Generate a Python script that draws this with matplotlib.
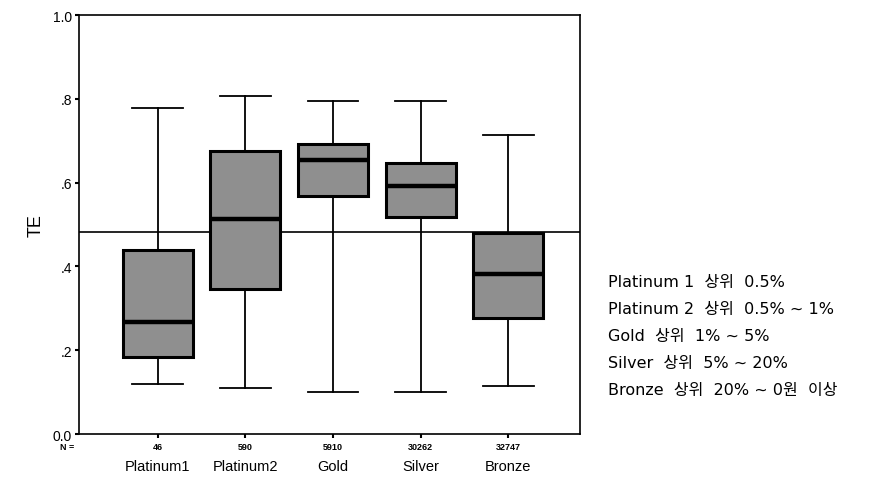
import matplotlib
matplotlib.use("Agg")
import matplotlib.pyplot as plt
from matplotlib.transforms import blended_transform_factory

plt.rcParams['font.family'] = ['Liberation Sans', 'Noto Sans CJK KR', 'DejaVu Sans']

categories = ["Platinum1", "Platinum2", "Gold", "Silver", "Bronze"]
counts = ["46", "590", "5910", "30262", "32747"]
whislo = [0.12, 0.11, 0.10, 0.10, 0.115]
q1 = [0.185, 0.345, 0.567, 0.517, 0.278]
med = [0.268, 0.512, 0.655, 0.593, 0.383]
q3 = [0.440, 0.676, 0.693, 0.648, 0.479]
whishi = [0.779, 0.807, 0.795, 0.795, 0.713]
ref_line = 0.481
ytick_vals = [0.0, 0.2, 0.4, 0.6, 0.8, 1.0]
ytick_labels = ["0.0", ".2", ".4", ".6", ".8", "1.0"]
legend_lines = ["Platinum 1  상위  0.5%",
                "Platinum 2  상위  0.5% ~ 1%",
                "Gold  상위  1% ~ 5%",
                "Silver  상위  5% ~ 20%",
                "Bronze  상위  20% ~ 0원  이상"]

fig = plt.figure(figsize=(8.82, 4.81), dpi=100)
ax = fig.add_axes([0.0896, 0.0956, 0.5680, 0.8711])

stats = []
for i, c in enumerate(categories):
    stats.append(dict(label=c, whislo=whislo[i], q1=q1[i], med=med[i],
                      q3=q3[i], whishi=whishi[i], fliers=[]))
positions = list(range(1, len(categories) + 1))
ax.bxp(stats, positions=positions, widths=0.8, patch_artist=True,
       showfliers=False,
       boxprops=dict(facecolor='#8f8f8f', edgecolor='black', linewidth=2.2),
       medianprops=dict(color='black', linewidth=3.2),
       whiskerprops=dict(color='black', linewidth=1.3),
       capprops=dict(color='black', linewidth=1.3),
       capwidths=0.58)

ax.axhline(ref_line, color='black', linewidth=1.2, zorder=0.5)

ax.set_xlim(0.1, 5.82)
ax.set_ylim(0.0, 1.0)
ax.set_yticks(ytick_vals)
ax.set_yticklabels(ytick_labels, fontsize=10)
ax.set_xticks(positions)
ax.set_xticklabels(categories, fontsize=10.5)
ax.tick_params(axis='x', length=3, width=1.5, pad=15)
ax.tick_params(axis='y', length=3, width=1.5, pad=2)
for s in ax.spines.values():
    s.set_linewidth(1.2)
ax.set_ylabel("TE", fontsize=13, labelpad=6)

trans = blended_transform_factory(ax.transData, ax.transAxes)
for p, n in zip(positions, counts):
    ax.text(p, -0.018, n, transform=trans, ha='center', va='top',
            fontsize=6.5, fontweight='bold')
ax.text(-0.01, -0.018, "N =", transform=ax.transAxes, ha='right', va='top',
        fontsize=6.5, fontweight='bold')

y0 = 481 - 283
for i, line in enumerate(legend_lines):
    fig.text(608 / 882, (y0 - i * 26.8) / 481, line, fontsize=11.5,
             ha='left', va='center', family=['DejaVu Sans', 'Noto Sans CJK KR'])

fig.savefig("out.png", dpi=100)
